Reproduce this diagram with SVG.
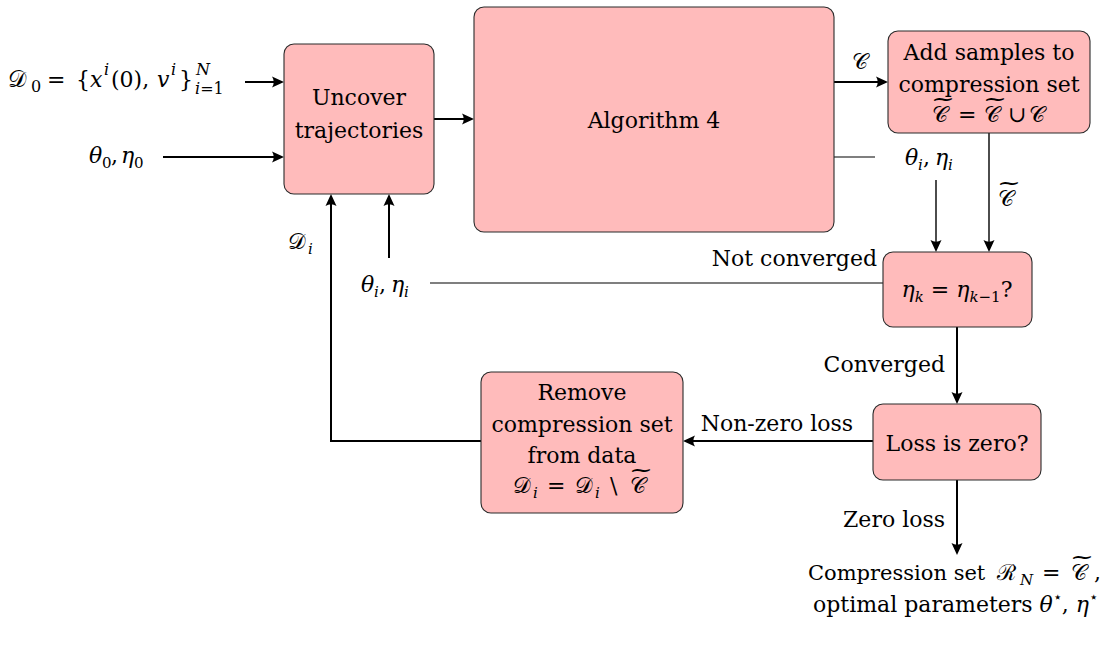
<svg xmlns="http://www.w3.org/2000/svg" width="1114" height="647" viewBox="0 0 1114 647" font-family="'DejaVu Serif', serif">
  <defs>
    <style>
      .node rect { fill: #FFBBBB; stroke: #2b2b2b; stroke-width: 1.1; }
      text { font-family: 'DejaVu Serif', serif; font-size: 22px; fill: #000; }
      .m { font-style: italic; }
      .s { font-size: 15px; }
      .c { text-anchor: middle; }
      .e { text-anchor: end; }
      .cal { font-size: 22px; font-style: normal; }
      .tl { text-anchor: middle; font-size: 22px; }
      .big { font-size: 24px; }
      .big .s { font-size: 16px; }
      .big .cal { font-size: 23px; }
      .thick { stroke: #000; stroke-width: 2; fill: none; }
      .mid { stroke: #000; stroke-width: 1.4; fill: none; }
      .thin { stroke: #000; stroke-width: 1.1; fill: none; }
      .arr { marker-end: url(#head); }
    </style>
    <marker id="head" markerUnits="userSpaceOnUse" markerWidth="16" markerHeight="14" viewBox="-14 -7 16 14" refX="-2" refY="0" orient="auto">
      <path d="M0,0 L-12,-5.5 Q-8.5,0 -12,5.5 Z" fill="#000"/>
    </marker>
  </defs>

  <!-- connectors -->
  <g id="connectors">
    <line class="thick arr" x1="245" y1="82" x2="282" y2="82"/>
    <line class="thick arr" x1="163" y1="157" x2="282" y2="157"/>
    <line class="thick arr" x1="434" y1="119" x2="472" y2="119"/>
    <line class="thick arr" x1="834" y1="82" x2="886" y2="82"/>
    <line class="thin" x1="834" y1="157" x2="875" y2="157"/>
    <line class="mid arr" x1="936" y1="180" x2="936" y2="250"/>
    <line class="mid arr" x1="989" y1="133" x2="989" y2="250"/>
    <line class="thin" x1="883" y1="283" x2="430" y2="283"/>
    <line class="thick arr" x1="389" y1="258" x2="389" y2="196"/>
    <polyline class="thick arr" points="481,441 331,441 331,196"/>
    <line class="thick arr" x1="957" y1="327" x2="957" y2="402"/>
    <line class="thick arr" x1="873" y1="441" x2="685" y2="441"/>
    <line class="thick arr" x1="957" y1="480" x2="957" y2="553"/>

    <!-- edge labels -->
    <text class="cal" x="852" y="69">𝒞</text>
    <text y="165"><tspan class="m" x="905">θ</tspan><tspan class="m s" x="918" y="170">i</tspan><tspan x="923" y="165">,</tspan><tspan class="m" x="935">η</tspan><tspan class="m s" x="948" y="170">i</tspan></text>
    <text class="cal" x="998" y="206">𝒞</text>
    <text class="tl" transform="translate(1009,190) scale(1.3,1)">~</text>
    <text class="e" x="877" y="266">Not converged</text>
    <text y="292"><tspan class="m" x="361">θ</tspan><tspan class="m s" x="374" y="297">i</tspan><tspan x="379" y="292">,</tspan><tspan class="m" x="391">η</tspan><tspan class="m s" x="404" y="297">i</tspan></text>
    <text y="249"><tspan class="cal" x="288">𝒟</tspan><tspan class="m s" x="308" y="254">i</tspan></text>
    <text class="e" x="945" y="372">Converged</text>
    <text class="e" x="853" y="431">Non-zero loss</text>
    <text class="e" x="945" y="527">Zero loss</text>
  </g>

  <!-- input labels -->
  <g id="inputs">
    <g class="big">
      <text y="87"><tspan class="cal" x="8">𝒟</tspan><tspan class="s" x="31" y="92">0</tspan><tspan x="47" y="87">=</tspan><tspan x="76">{</tspan><tspan class="m" x="90">x</tspan><tspan class="m s" x="104" y="75">i</tspan><tspan x="111" y="87">(0),</tspan><tspan class="m" x="157">v</tspan><tspan class="m s" x="171" y="75">i</tspan><tspan x="179" y="87">}</tspan></text>
      <text class="m s" x="196" y="75">N</text>
      <text class="s" x="195" y="94"><tspan class="m">i</tspan>=1</text>
    </g>
    <text y="163"><tspan class="m" x="89">θ</tspan><tspan class="s" x="102" y="168">0</tspan><tspan x="111" y="163">,</tspan><tspan class="m" x="121">η</tspan><tspan class="s" x="134" y="168">0</tspan></text>
  </g>

  <g id="uncover" class="node">
    <rect x="284" y="44" width="150" height="150" rx="10"/>
    <text class="c" x="359" y="105">Uncover</text>
    <text class="c" x="359" y="138">trajectories</text>
  </g>

  <g id="algorithm" class="node">
    <rect x="474" y="7" width="360" height="225" rx="10"/>
    <text class="c" x="654" y="128" font-size="23">Algorithm 4</text>
  </g>

  <g id="add-samples" class="node">
    <rect x="888" y="31" width="202" height="102" rx="10"/>
    <text class="c" x="989" y="60">Add samples to</text>
    <text class="c" x="989" y="92">compression set</text>
    <text y="122"><tspan class="cal" x="932">𝒞</tspan><tspan x="958">=</tspan><tspan class="cal" x="984">𝒞</tspan><tspan x="1008">∪</tspan><tspan class="cal" x="1029">𝒞</tspan></text>
    <text class="tl" transform="translate(943,106) scale(1.3,1)">~</text>
    <text class="tl" transform="translate(995,106) scale(1.3,1)">~</text>
  </g>

  <g id="convergence-check" class="node">
    <rect x="883" y="252" width="149" height="75" rx="10"/>
    <text class="c" x="957" y="297"><tspan class="m">η</tspan><tspan class="m s" dy="5">k</tspan><tspan dy="-5"> = </tspan><tspan class="m">η</tspan><tspan class="s" dy="5"><tspan class="m">k</tspan>−1</tspan><tspan dy="-5">?</tspan></text>
  </g>

  <g id="loss-check" class="node">
    <rect x="873" y="404" width="168" height="76" rx="10"/>
    <text class="c" x="957" y="451">Loss is zero?</text>
  </g>

  <g id="remove-set" class="node">
    <rect x="481" y="372" width="202" height="141" rx="10"/>
    <text class="c" x="582" y="400">Remove</text>
    <text class="c" x="582" y="432">compression set</text>
    <text class="c" x="582" y="463">from data</text>
    <text y="493"><tspan class="cal" x="513">𝒟</tspan><tspan class="m s" x="533" y="498">i</tspan><tspan x="547" y="493">=</tspan><tspan class="cal" x="575">𝒟</tspan><tspan class="m s" x="595" y="498">i</tspan><tspan x="610" y="493">\</tspan><tspan class="cal" x="630">𝒞</tspan></text>
    <text class="tl" transform="translate(641,477) scale(1.3,1)">~</text>
  </g>

  <g id="result">
    <text y="580"><tspan x="808" font-size="21">Compression set</tspan><tspan class="cal" x="997">ℛ</tspan><tspan class="m s" x="1020" y="585">N</tspan><tspan x="1042" y="580">=</tspan><tspan class="cal" x="1071">𝒞</tspan><tspan x="1094">,</tspan></text>
    <text class="tl" transform="translate(1082,564) scale(1.3,1)">~</text>
    <text x="813" y="612">optimal parameters <tspan class="m">θ</tspan><tspan class="s" dy="-10">⋆</tspan><tspan dy="10">, </tspan><tspan class="m">η</tspan><tspan class="s" dy="-10">⋆</tspan></text>
  </g>
</svg>
